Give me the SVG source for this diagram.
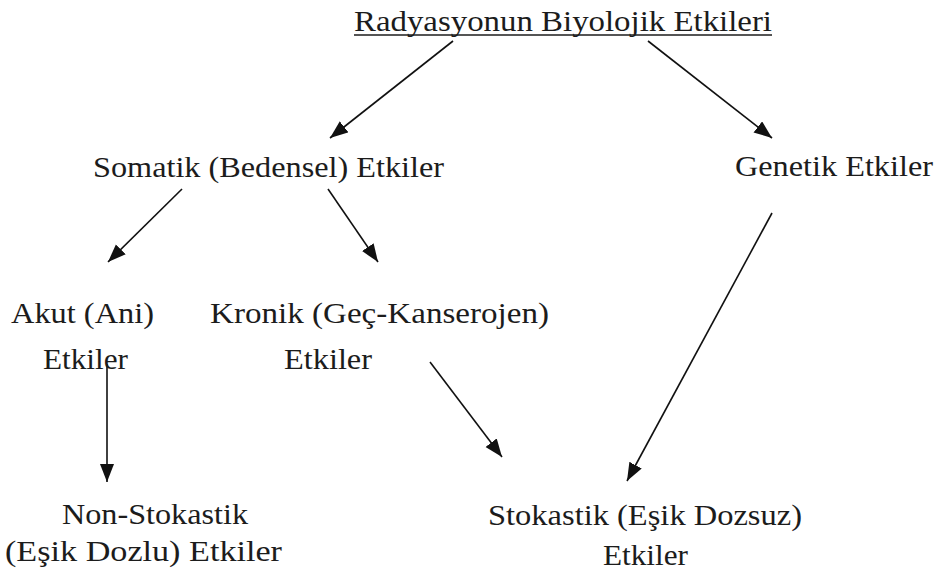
<svg xmlns="http://www.w3.org/2000/svg" width="939" height="576" viewBox="0 0 939 576">
<defs>
<style>
text{font-family:"Liberation Serif","Times New Roman",Times,serif;font-size:30px;fill:#1c1c1c;}
.c{stroke:#111;stroke-width:1.6;fill:none;}
</style>
<marker id="ah" markerUnits="userSpaceOnUse" markerWidth="20" markerHeight="16" refX="18" refY="7" orient="auto">
<path d="M0,0 L18,7 L0,14 z" fill="#111"/>
</marker>
</defs>
<rect width="939" height="576" fill="#fff"/>
<g id="connectors">
<line class="c" x1="453" y1="41" x2="330" y2="138" marker-end="url(#ah)"/>
<line class="c" x1="648" y1="41" x2="772" y2="138" marker-end="url(#ah)"/>
<line class="c" x1="182" y1="189" x2="108" y2="262" marker-end="url(#ah)"/>
<line class="c" x1="328" y1="189" x2="378" y2="262" marker-end="url(#ah)"/>
<line class="c" x1="772" y1="213" x2="627" y2="481" marker-end="url(#ah)"/>
<line class="c" x1="107" y1="364" x2="107" y2="482" marker-end="url(#ah)"/>
<line class="c" x1="430" y1="362" x2="502" y2="457" marker-end="url(#ah)"/>
</g>
<g id="root">
<text font-family="Liberation Serif, serif" x="354" y="31" textLength="418" lengthAdjust="spacingAndGlyphs">Radyasyonun Biyolojik Etkileri</text>
<line x1="354" y1="35" x2="772" y2="35" stroke="#1c1c1c" stroke-width="1.5"/>
</g>
<g id="somatik">
<text font-family="Liberation Serif, serif" x="93" y="177" textLength="351" lengthAdjust="spacingAndGlyphs">Somatik (Bedensel) Etkiler</text>
</g>
<g id="genetik">
<text font-family="Liberation Serif, serif" x="735" y="176" textLength="198" lengthAdjust="spacingAndGlyphs">Genetik Etkiler</text>
</g>
<g id="akut">
<text font-family="Liberation Serif, serif" x="11" y="323" textLength="143" lengthAdjust="spacingAndGlyphs">Akut (Ani)</text>
<text font-family="Liberation Serif, serif" x="43" y="369" textLength="85" lengthAdjust="spacingAndGlyphs">Etkiler</text>
</g>
<g id="kronik">
<text font-family="Liberation Serif, serif" x="210" y="323" textLength="339" lengthAdjust="spacingAndGlyphs">Kronik (Geç-Kanserojen)</text>
<text font-family="Liberation Serif, serif" x="284" y="369" textLength="88" lengthAdjust="spacingAndGlyphs">Etkiler</text>
</g>
<g id="nonstokastik">
<text font-family="Liberation Serif, serif" x="62" y="524" textLength="186" lengthAdjust="spacingAndGlyphs">Non-Stokastik</text>
<text font-family="Liberation Serif, serif" x="5" y="561" textLength="277" lengthAdjust="spacingAndGlyphs">(Eşik Dozlu) Etkiler</text>
</g>
<g id="stokastik">
<text font-family="Liberation Serif, serif" x="488" y="525" textLength="314" lengthAdjust="spacingAndGlyphs">Stokastik (Eşik Dozsuz)</text>
<text font-family="Liberation Serif, serif" x="603" y="565" textLength="85" lengthAdjust="spacingAndGlyphs">Etkiler</text>
</g>
</svg>
